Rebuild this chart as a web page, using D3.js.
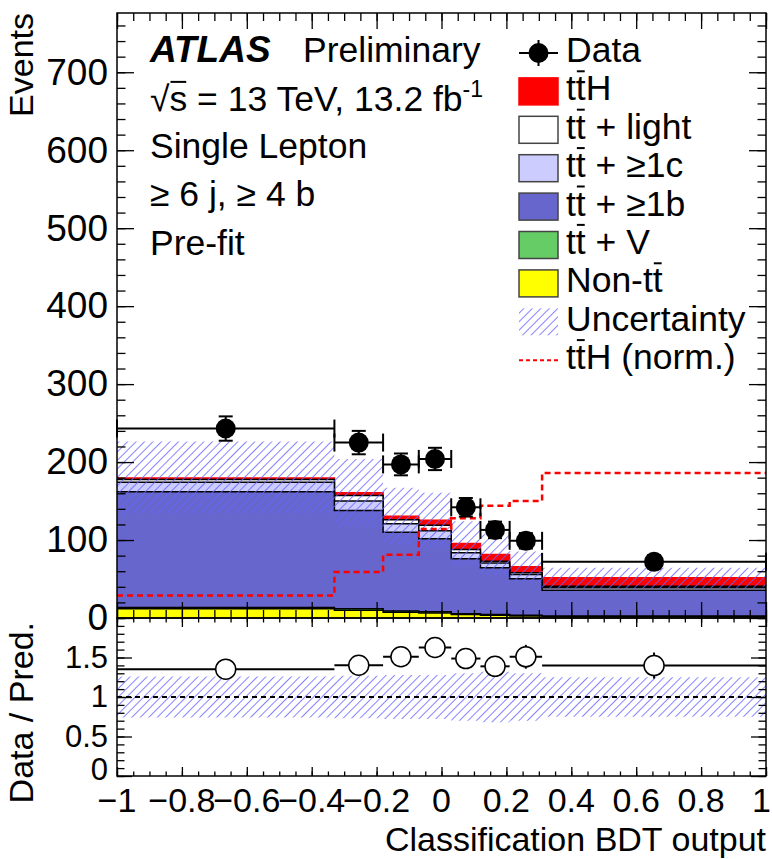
<!DOCTYPE html>
<html>
<head>
<meta charset="utf-8">
<script src="https://cdn.jsdelivr.net/npm/d3@7"></script>
<style>
body { margin: 0; background: #fff; }
svg { display: block; font-family: "Liberation Sans", Arial, Helvetica, sans-serif; }
</style>
</head>
<body>
<svg id="chart" width="772" height="859"></svg>
<script>
// bin edges of the classification BDT output
const binEdges = [-1, -0.33, -0.18, -0.07, 0.03, 0.12, 0.21, 0.31, 1];

// observed data and its error
const dataCounts = [243, 225, 197, 204, 142, 113, 99, 72];
const dataErr = [15.6, 15, 14, 14.3, 11.9, 10.6, 9.9, 8.5];

// pre-fit prediction, per sample (not stacked)
const nonTtbar = [12, 10, 7.5, 6.5, 4.5, 3.5, 2.5, 1.5];
const ttV = [1.5, 2, 1.5, 1.5, 1, 1, 1, 1];
const ttB = [148.5, 126, 101, 93.5, 70.5, 59.8, 46.7, 33.1];
const ttC = [12, 12, 11, 10.5, 7.6, 6.4, 5.6, 3.1];
const ttLight = [3.6, 7, 5, 7, 4.2, 2.1, 2.2, 2.1];
const ttH = [2.1, 3.5, 4.5, 6.4, 7.7, 8.6, 7.6, 10.7];

// ttH normalised to the background
const ttHNorm = [29, 59, 81, 114, 128, 144, 150, 186];

// relative uncertainty on the total prediction
const uncRel = [0.26, 0.27, 0.28, 0.28, 0.30, 0.32, 0.30, 0.25];

const xTicks = [-1, -0.8, -0.6, -0.4, -0.2, 0, 0.2, 0.4, 0.6, 0.8, 1];
const yTicksMain = [0, 100, 200, 300, 400, 500, 600, 700];
const yTicksRatio = [0, 0.5, 1, 1.5];

// label text, plus index of the characters that get a bar (t-bar)
const samples = [
	{ name: 'nonTtbar', values: nonTtbar, fill: '#ffff00', label: 'Non-tt', bars: [5] },
	{ name: 'ttV', values: ttV, fill: '#66cc66', label: 'tt + V', bars: [1] },
	{ name: 'ttB', values: ttB, fill: '#6666cc', label: 'tt + \u22651b', bars: [1] },
	{ name: 'ttC', values: ttC, fill: '#ccccff', label: 'tt + \u22651c', bars: [1] },
	{ name: 'ttLight', values: ttLight, fill: '#ffffff', label: 'tt + light', bars: [1] },
	{ name: 'ttH', values: ttH, fill: '#ff0000', label: 'ttH', bars: [1] }
];

const fontSize = 34;
const textSize = 35.5;
const frame = { left: 117, right: 766, top: 13, mid: 618, bottom: 776 };

const svg = d3.select('#chart');

const x = d3.scaleLinear().domain([-1, 1]).range([frame.left, frame.right]);
const yMain = d3.scaleLinear().domain([0, 776]).range([frame.mid, frame.top]);
const yRatio = d3.scaleLinear().domain([0, 2]).range([frame.bottom, frame.mid]);

// hatch pattern for the uncertainty band
const defs = svg.append('defs');
defs.append('pattern')
	.attr('id', 'hatch')
	.attr('patternUnits', 'userSpaceOnUse')
	.attr('width', 6).attr('height', 6)
	.attr('patternTransform', 'rotate(45)')
	.append('line')
		.attr('x1', 0).attr('y1', 0).attr('x2', 0).attr('y2', 6)
		.attr('stroke', '#6464ff').attr('stroke-width', 1.6);

defs.append('clipPath').attr('id', 'clipMain')
	.append('rect')
		.attr('x', frame.left).attr('y', frame.top)
		.attr('width', frame.right - frame.left).attr('height', frame.mid - frame.top);
defs.append('clipPath').attr('id', 'clipRatio')
	.append('rect')
		.attr('x', frame.left).attr('y', frame.mid)
		.attr('width', frame.right - frame.left).attr('height', frame.bottom - frame.mid);

const n = dataCounts.length;

// step points: one per bin edge, last repeats the last bin
function stepPoints(vals){
	return binEdges.map((e, i) => [e, vals[Math.min(i, n - 1)]]);
}

function stepLine(y){
	return d3.line().x(d => x(d[0])).y(d => y(d[1])).curve(d3.curveStepAfter);
}

// draw a bar over given characters of a text element
function addBars(textSel, bars, fs){
	let node = textSel.node();
	let base = +textSel.attr('y');
	let parent = d3.select(node.parentNode);
	bars.forEach(idx => {
		let ext = node.getExtentOfChar(idx);
		parent.append('line')
			.attr('x1', ext.x + 1).attr('x2', ext.x + ext.width - 1)
			.attr('y1', base - 0.82 * fs).attr('y2', base - 0.82 * fs)
			.attr('stroke', '#000').attr('stroke-width', 2);
	});
}

////////////////////////////////////////////////////////
// main panel
const main = svg.append('g').attr('clip-path', 'url(#clipMain)');

// cumulative sums, bottom to top
let cum = new Array(n).fill(0);
const stacked = samples.map(s => {
	cum = cum.map((c, i) => c + s.values[i]);
	return { sample: s, top: cum.slice() };
});
const total = cum;

// draw biggest first like a THStack
stacked.slice().reverse().forEach(st => {
	let pts = stepPoints(st.top);
	main.append('path')
		.datum(pts)
		.attr('fill', st.sample.fill)
		.attr('d', d3.area().x(d => x(d[0])).y0(yMain(0)).y1(d => yMain(d[1])).curve(d3.curveStepAfter));
	main.append('path')
		.datum(pts)
		.attr('fill', 'none')
		.attr('stroke', st.sample.name == 'ttH' ? '#ff0000' : '#000')
		.attr('stroke-width', 1.5)
		.attr('d', stepLine(yMain));
});

// uncertainty band
let bandPts = binEdges.map((e, i) => {
	let k = Math.min(i, n - 1);
	return { e: e, lo: total[k] * (1 - uncRel[k]), hi: total[k] * (1 + uncRel[k]) };
});
main.append('path')
	.datum(bandPts)
	.attr('fill', 'url(#hatch)')
	.attr('d', d3.area().x(d => x(d.e)).y0(d => yMain(d.lo)).y1(d => yMain(d.hi)).curve(d3.curveStepAfter));

// normalised ttH
main.append('path')
	.datum(stepPoints(ttHNorm))
	.attr('fill', 'none')
	.attr('stroke', '#ff0000')
	.attr('stroke-width', 2.5)
	.attr('stroke-dasharray', '6,4')
	.attr('d', stepLine(yMain));

// data points
const dataG = svg.append('g');
dataCounts.forEach((v, i) => {
	let cx = x((binEdges[i] + binEdges[i + 1]) / 2);
	let cy = yMain(v);
	let x0 = x(binEdges[i]), x1 = x(binEdges[i + 1]);
	let g = dataG.append('g').attr('stroke', '#000').attr('stroke-width', 2);
	g.append('line').attr('x1', x0).attr('x2', x1).attr('y1', cy).attr('y2', cy);
	g.append('line').attr('x1', x0).attr('x2', x0).attr('y1', cy - 9).attr('y2', cy + 9);
	g.append('line').attr('x1', x1).attr('x2', x1).attr('y1', cy - 9).attr('y2', cy + 9);
	g.append('line').attr('x1', cx).attr('x2', cx).attr('y1', yMain(v - dataErr[i])).attr('y2', yMain(v + dataErr[i]));
	g.append('line').attr('x1', cx - 7).attr('x2', cx + 7).attr('y1', yMain(v - dataErr[i])).attr('y2', yMain(v - dataErr[i]));
	g.append('line').attr('x1', cx - 7).attr('x2', cx + 7).attr('y1', yMain(v + dataErr[i])).attr('y2', yMain(v + dataErr[i]));
	dataG.append('circle').attr('cx', cx).attr('cy', cy).attr('r', 10).attr('fill', '#000');
});

////////////////////////////////////////////////////////
// ratio panel
const ratio = svg.append('g').attr('clip-path', 'url(#clipRatio)');

let ratioBand = binEdges.map((e, i) => {
	let k = Math.min(i, n - 1);
	return { e: e, lo: 1 - uncRel[k], hi: 1 + uncRel[k] };
});
ratio.append('path')
	.datum(ratioBand)
	.attr('fill', 'url(#hatch)')
	.attr('d', d3.area().x(d => x(d.e)).y0(d => yRatio(d.lo)).y1(d => yRatio(d.hi)).curve(d3.curveStepAfter));

ratio.append('line')
	.attr('x1', frame.left).attr('x2', frame.right)
	.attr('y1', yRatio(1)).attr('y2', yRatio(1))
	.attr('stroke', '#000').attr('stroke-width', 2)
	.attr('stroke-dasharray', '5,4');

dataCounts.forEach((v, i) => {
	let r = v / total[i];
	let re = dataErr[i] / total[i];
	let cx = x((binEdges[i] + binEdges[i + 1]) / 2);
	let cy = yRatio(r);
	let g = ratio.append('g').attr('stroke', '#000').attr('stroke-width', 2);
	g.append('line').attr('x1', x(binEdges[i])).attr('x2', x(binEdges[i + 1])).attr('y1', cy).attr('y2', cy);
	g.append('line').attr('x1', cx).attr('x2', cx).attr('y1', yRatio(r - re)).attr('y2', yRatio(r + re));
	ratio.append('circle').attr('cx', cx).attr('cy', cy).attr('r', 10)
		.attr('fill', '#fff').attr('stroke', '#000').attr('stroke-width', 1.5);
});

////////////////////////////////////////////////////////
// frames and axes
const minorX = d3.range(-1, 1.0001, 0.05);
const minorYMain = d3.range(0, 776, 20);
const minorYRatio = d3.range(0, 2.0001, 0.1);

function tickGroup(axis, tx, ty){
	let g = svg.append('g').attr('transform', `translate(${tx},${ty})`).call(axis);
	g.select('.domain').remove();
	g.selectAll('line').attr('stroke', '#000').attr('stroke-width', 1.3);
	return g;
}

function drawFrame(yScale, majorY, minorY, top, bottom, yMajLen, yMinLen, xMajLen, xMinLen, labelSize){
	// x ticks bottom / top
	tickGroup(d3.axisBottom(x).tickValues(xTicks).tickSize(-xMajLen).tickFormat(''), 0, bottom);
	tickGroup(d3.axisBottom(x).tickValues(minorX).tickSize(-xMinLen).tickFormat(''), 0, bottom);
	tickGroup(d3.axisTop(x).tickValues(xTicks).tickSize(-xMajLen).tickFormat(''), 0, top);
	tickGroup(d3.axisTop(x).tickValues(minorX).tickSize(-xMinLen).tickFormat(''), 0, top);
	// y ticks left / right
	let lab = tickGroup(d3.axisLeft(yScale).tickValues(majorY).tickSize(-yMajLen).tickPadding(9)
		.tickFormat(d3.format('')), frame.left, 0);
	lab.selectAll('text')
		.attr('font-size', labelSize)
		.attr('font-family', null)
		.attr('fill', '#000');
	tickGroup(d3.axisLeft(yScale).tickValues(minorY).tickSize(-yMinLen).tickFormat(''), frame.left, 0);
	tickGroup(d3.axisRight(yScale).tickValues(majorY).tickSize(-yMajLen).tickFormat(''), frame.right, 0);
	tickGroup(d3.axisRight(yScale).tickValues(minorY).tickSize(-yMinLen).tickFormat(''), frame.right, 0);

	svg.append('rect')
		.attr('x', frame.left).attr('y', top)
		.attr('width', frame.right - frame.left).attr('height', bottom - top)
		.attr('fill', 'none').attr('stroke', '#000').attr('stroke-width', 1.5);
	return lab;
}

drawFrame(yMain, yTicksMain, minorYMain, frame.top, frame.mid, 17, 8.5, 16, 8, 37);
let ratioLab = drawFrame(yRatio, yTicksRatio, minorYRatio, frame.mid, frame.bottom, 15, 7.5, 9, 4.5, 31);
// lift the bottom "0" a bit so it clears the x labels
ratioLab.selectAll('.tick').filter(d => d == 0).select('text').attr('dy', '0.1em');

// x labels below the ratio panel
svg.append('g')
	.selectAll('text')
	.data(xTicks)
	.join('text')
		.attr('x', d => d == 1 ? 771 : x(d))
		.attr('y', 812)
		.attr('text-anchor', d => d == 1 ? 'end' : 'middle')
		.attr('font-size', fontSize)
		.text(d => d3.format('')(d).replace('-', '\u2212'));

// axis titles
svg.append('text')
	.attr('transform', 'translate(33,13) rotate(-90)')
	.attr('text-anchor', 'end')
	.attr('font-size', fontSize)
	.text('Events');
svg.append('text')
	.attr('transform', 'translate(33,622) rotate(-90)')
	.attr('text-anchor', 'end')
	.attr('font-size', fontSize)
	.text('Data / Pred.');
svg.append('text')
	.attr('x', frame.right)
	.attr('y', 851)
	.attr('text-anchor', 'end')
	.attr('font-size', fontSize)
	.text('Classification BDT output');

////////////////////////////////////////////////////////
// labels top left
const info = svg.append('g').attr('font-size', textSize);
info.append('text').attr('x', 150).attr('y', 62).attr('font-size', 37)
	.attr('font-weight', 'bold').attr('font-style', 'italic').text('ATLAS');
info.append('text').attr('x', 303).attr('y', 62).text('Preliminary');
let sqrtText = info.append('text').attr('x', 150).attr('y', 111)
	.html('\u221as = 13 TeV, 13.2 fb<tspan dy="-14" font-size="23">-1</tspan>');
addBars(sqrtText, [1], textSize);
info.append('text').attr('x', 150).attr('y', 158).text('Single Lepton');
info.append('text').attr('x', 150).attr('y', 206).text('\u2265 6 j, \u2265 4 b');
info.append('text').attr('x', 150).attr('y', 255).text('Pre-fit');

////////////////////////////////////////////////////////
// legend
const legend = svg.append('g').attr('font-size', textSize);
const legX = 519, legW = 39, legH = 27, rowH = 38.4, row0 = 53;
const legendRows = ['data'].concat(samples.slice().reverse().map(s => s.name), ['unc', 'norm']);

legendRows.forEach((key, i) => {
	let cy = row0 + i * rowH;
	let label, bars = [];
	if(key == 'data'){
		legend.append('line').attr('x1', legX).attr('x2', legX + legW).attr('y1', cy).attr('y2', cy)
			.attr('stroke', '#000').attr('stroke-width', 2);
		legend.append('line').attr('x1', legX + legW / 2).attr('x2', legX + legW / 2).attr('y1', cy - 13).attr('y2', cy + 13)
			.attr('stroke', '#000').attr('stroke-width', 2);
		legend.append('circle').attr('cx', legX + legW / 2).attr('cy', cy).attr('r', 10).attr('fill', '#000');
		label = 'Data';
	} else if(key == 'unc'){
		legend.append('rect').attr('x', legX).attr('y', cy - legH / 2).attr('width', legW).attr('height', legH)
			.attr('fill', 'url(#hatch)');
		label = 'Uncertainty';
	} else if(key == 'norm'){
		legend.append('line').attr('x1', legX).attr('x2', legX + legW).attr('y1', cy).attr('y2', cy)
			.attr('stroke', '#ff0000').attr('stroke-width', 2).attr('stroke-dasharray', '4,3');
		label = 'ttH (norm.)';
		bars = [1];
	} else {
		let s = samples.find(d => d.name == key);
		legend.append('rect').attr('x', legX).attr('y', cy - legH / 2).attr('width', legW).attr('height', legH)
			.attr('fill', s.fill)
			.attr('stroke', key == 'ttH' ? '#ff0000' : '#444').attr('stroke-width', 1.5);
		label = s.label;
		bars = s.bars;
	}
	let t = legend.append('text').attr('x', 566).attr('y', cy + 9).text(label);
	addBars(t, bars, textSize);
});
</script>
</body>
</html>
